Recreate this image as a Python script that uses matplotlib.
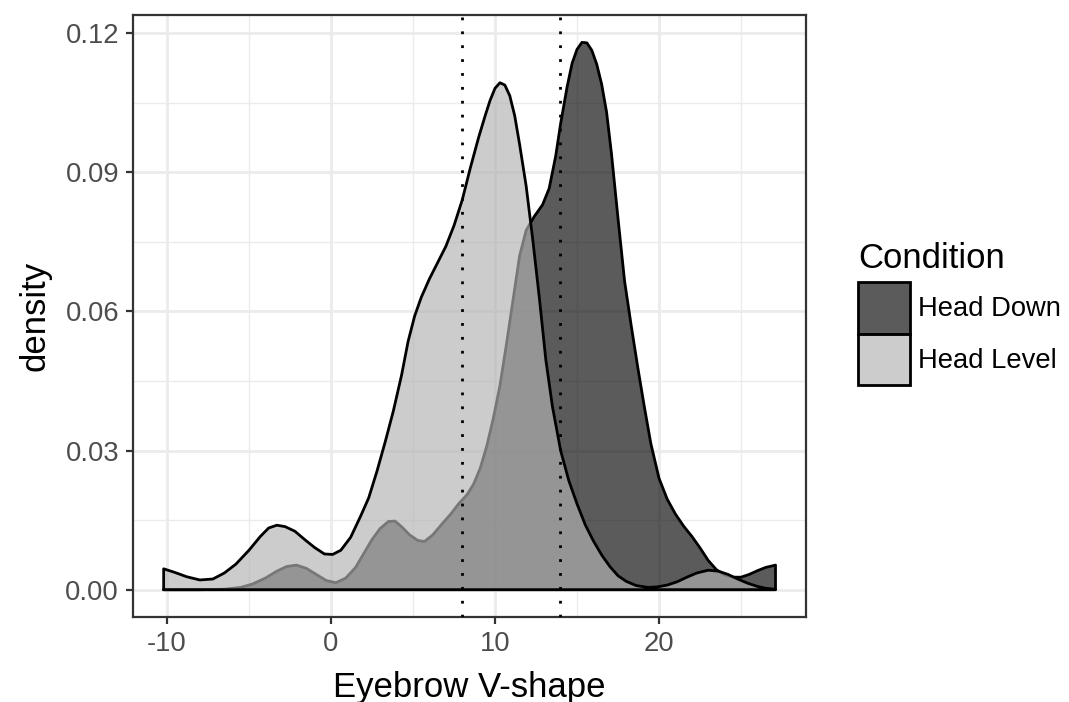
import matplotlib
matplotlib.use("Agg")
import matplotlib.pyplot as plt
from matplotlib.patches import Patch

plt.rcParams['font.family'] = ['Liberation Sans', 'DejaVu Sans']
plt.rcParams['axes.unicode_minus'] = False

# Density curves (x = Eyebrow V-shape, y = density)
level_x = [-10.2, -9.5, -8.8, -8.0, -7.2, -6.5, -5.8, -5.0, -4.3, -3.8, -3.3, -2.8,
           -2.2, -1.6, -1.0, -0.4, 0.1, 0.6, 1.2, 1.8, 2.3, 2.8, 3.3, 3.8, 4.3, 4.7,
           5.1, 5.5, 6.0, 6.5, 7.0, 7.5, 8.0, 8.5, 9.0, 9.4, 9.7, 10.0, 10.3, 10.6,
           10.9, 11.2, 11.5, 11.9, 12.3, 12.7, 13.1, 13.5, 14.0, 14.5, 15.0, 15.5,
           16.0, 16.5, 17.0, 17.5, 18.0, 18.6, 19.3, 19.9, 20.5, 21.1, 21.7, 22.3,
           23.0, 23.6, 24.2, 24.8, 25.4, 26.0, 26.5, 27.1]
level_y = [0.0045, 0.0037, 0.0028, 0.0021, 0.0023, 0.0036, 0.0055, 0.0085, 0.0115,
           0.0133, 0.0139, 0.0136, 0.0126, 0.0108, 0.0091, 0.0077, 0.0076, 0.0085,
           0.0113, 0.0158, 0.0198, 0.0255, 0.0318, 0.0385, 0.0462, 0.0535, 0.0590,
           0.0630, 0.0670, 0.0705, 0.0740, 0.0785, 0.0840, 0.0910, 0.0975, 0.1022,
           0.1055, 0.1081, 0.1093, 0.1088, 0.1065, 0.1022, 0.0960, 0.0870, 0.0755,
           0.0630, 0.0495, 0.0395, 0.0300, 0.0235, 0.0185, 0.0140, 0.0105, 0.0075,
           0.0050, 0.0030, 0.0018, 0.0009, 0.0005, 0.0006, 0.0010, 0.0017, 0.0027,
           0.0036, 0.0042, 0.0040, 0.0033, 0.0023, 0.0014, 0.0007, 0.0003, 0.0001]

down_x = [-10.2, -8.0, -6.5, -5.5, -4.8, -4.0, -3.3, -2.7, -2.1, -1.5, -0.9, -0.3,
          0.3, 0.9, 1.5, 2.0, 2.5, 3.0, 3.5, 3.9, 4.3, 4.8, 5.3, 5.7, 6.2, 6.8, 7.3,
          7.8, 8.3, 8.7, 9.1, 9.5, 9.9, 10.3, 10.7, 11.1, 11.5, 11.9, 12.4, 12.9,
          13.3, 13.7, 14.0, 14.4, 14.7, 15.0, 15.3, 15.6, 15.9, 16.2, 16.5, 16.8,
          17.1, 17.5, 17.9, 18.3, 18.7, 19.1, 19.5, 20.0, 20.5, 21.0, 21.5, 22.0,
          22.5, 23.0, 23.5, 24.0, 24.5, 25.0, 25.5, 26.0, 26.5, 27.1]
down_y = [0.0, 0.0, 0.0001, 0.0005, 0.0012, 0.0025, 0.0040, 0.0050, 0.0053, 0.0046,
          0.0033, 0.0020, 0.0015, 0.0025, 0.0048, 0.0078, 0.0108, 0.0132, 0.0147,
          0.0148, 0.0136, 0.0118, 0.0106, 0.0104, 0.0118, 0.0143, 0.0163, 0.0186,
          0.0205, 0.0228, 0.0262, 0.0310, 0.0370, 0.0440, 0.0530, 0.0625, 0.0720,
          0.0775, 0.0805, 0.0830, 0.0865, 0.0935, 0.1005, 0.1085, 0.1135, 0.1165,
          0.1180, 0.1179, 0.1163, 0.1133, 0.1090, 0.1030, 0.0940, 0.0800, 0.0665,
          0.0570, 0.0480, 0.0395, 0.0315, 0.0240, 0.0195, 0.0163, 0.0137, 0.0115,
          0.0090, 0.0063, 0.0043, 0.0032, 0.0027, 0.0027, 0.0033, 0.0041, 0.0048,
          0.0053]

conditions = ["Head Down", "Head Level"]
means = [8.0, 13.95]

fill_down = (0.04, 0.04, 0.04, 0.67)
fill_level = (0.70, 0.70, 0.70, 0.67)

fig = plt.figure(figsize=(10.69, 7.02), dpi=100)
ax = fig.add_axes([0.1244, 0.121, 0.6296, 0.8576])

# polygons closed along the baseline, like the ggplot density outline
ax.fill([down_x[0]] + down_x + [down_x[-1]], [0] + down_y + [0],
        facecolor=fill_down, edgecolor="black", linewidth=2.0,
        joinstyle="round", zorder=3)
ax.fill([level_x[0]] + level_x + [level_x[-1]], [0] + level_y + [0],
        facecolor=fill_level, edgecolor="black", linewidth=2.0,
        joinstyle="round", zorder=3)

for m in means:
    ax.axvline(m, color="black", linewidth=2.0, linestyle=(0, (1, 4)), zorder=4)

ax.set_xlim(-12.07, 28.96)
ax.set_ylim(-0.0059, 0.1239)
ax.set_xticks([-10, 0, 10, 20])
ax.set_xticks([-5, 5, 15, 25], minor=True)
ax.set_yticks([0.0, 0.03, 0.06, 0.09, 0.12])
ax.set_yticklabels(["0.00", "0.03", "0.06", "0.09", "0.12"])
ax.set_yticks([0.015, 0.045, 0.075, 0.105], minor=True)

ax.grid(which="major", color="#EBEBEB", linewidth=2.0, zorder=0)
ax.grid(which="minor", color="#EBEBEB", linewidth=1.0, zorder=0)
ax.set_axisbelow(True)

for s in ax.spines.values():
    s.set_color("#333333")
    s.set_linewidth(1.6)
ax.tick_params(which="major", length=5, width=1.6, color="#333333",
               labelsize=19.7, labelcolor="#4D4D4D", pad=5)
ax.tick_params(which="minor", length=0)

ax.set_xlabel("Eyebrow V-shape", fontsize=25, labelpad=10)
ax.set_ylabel("density", fontsize=25, labelpad=10)

handles = [Patch(facecolor=fill_down, edgecolor="black", linewidth=2.0),
           Patch(facecolor=fill_level, edgecolor="black", linewidth=2.0)]
leg = fig.legend(handles, conditions, title="Condition", loc="upper left",
                 bbox_to_anchor=(0.8026, 0.6557), frameon=False, fontsize=19.7,
                 title_fontsize=25, handlelength=1.9, handleheight=2.54,
                 labelspacing=0.0, handletextpad=0.3, borderpad=0,
                 borderaxespad=0, alignment="left")
# a little room between the title and the keys
leg._legend_box.sep = 5

fig.savefig("out.png", dpi=100)
